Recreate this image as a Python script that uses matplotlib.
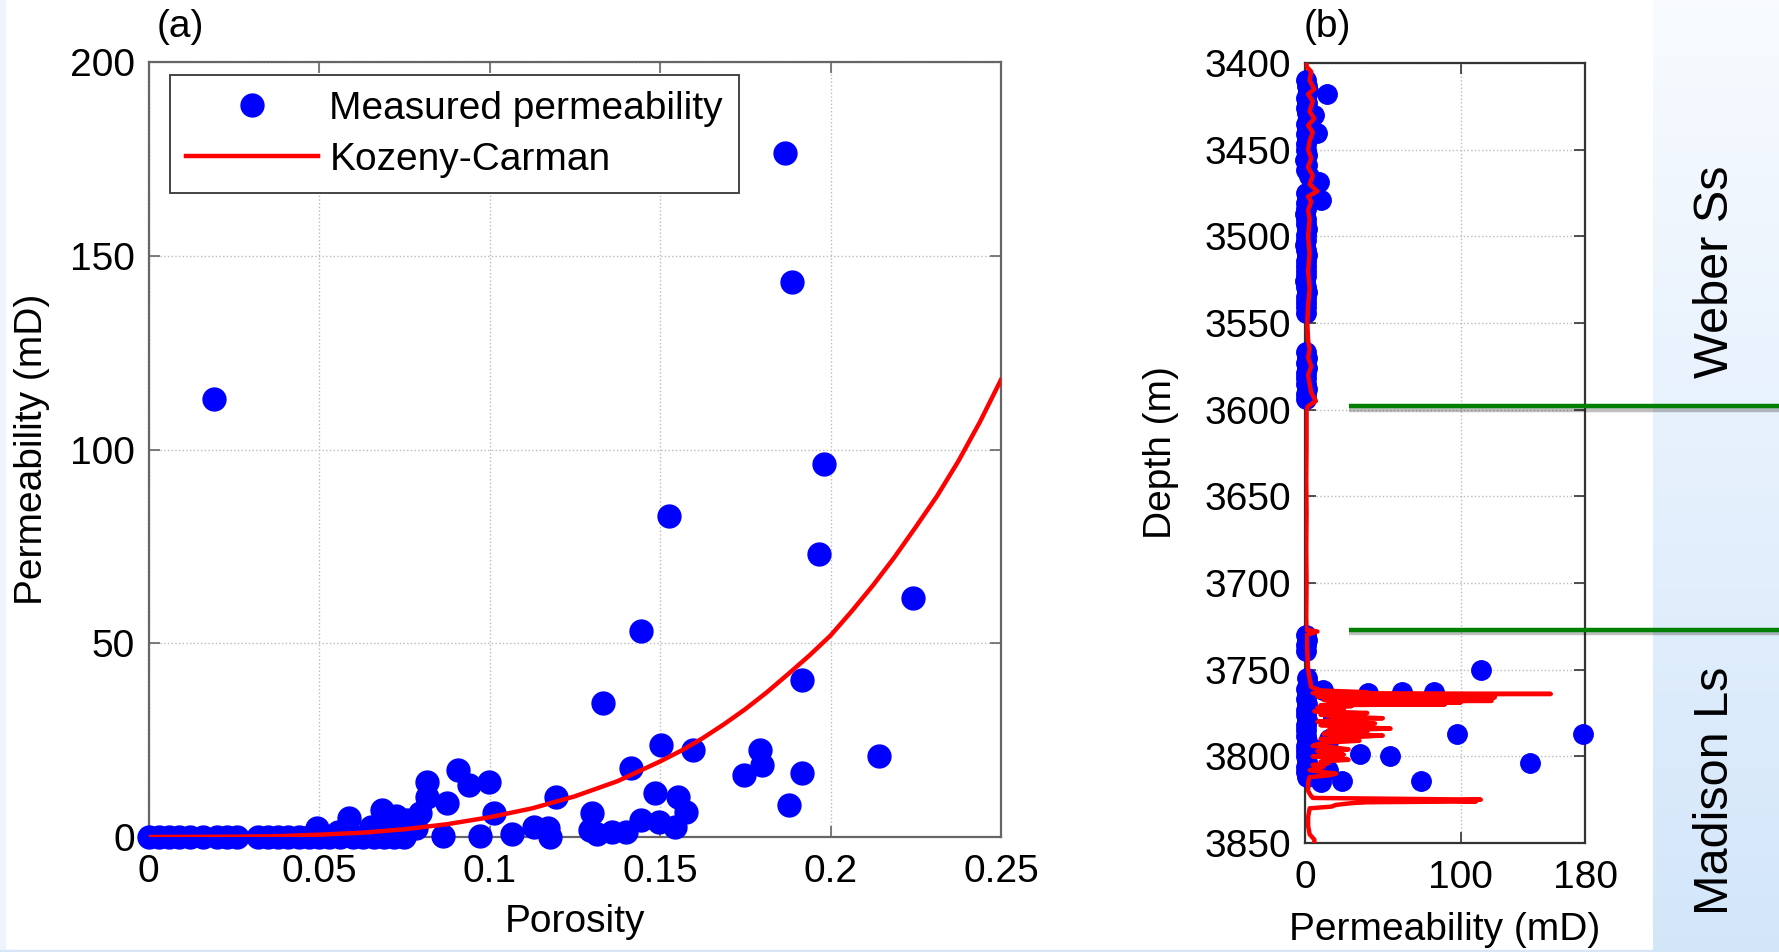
import numpy as np
import matplotlib.pyplot as plt
import matplotlib.patheffects as pe
from matplotlib.patches import Rectangle
from matplotlib.transforms import blended_transform_factory
from matplotlib.ticker import FormatStrFormatter

plt.rcParams['font.family'] = ['Liberation Sans', 'DejaVu Sans']

# (a) core samples: porosity vs measured permeability (mD)
porosity = [0.0, 0.003, 0.006, 0.009, 0.012, 0.016, 0.02, 0.023, 0.026, 0.032,
            0.035, 0.038, 0.041, 0.044, 0.047, 0.05, 0.053, 0.056, 0.06, 0.063,
            0.066, 0.069, 0.072, 0.075,
            0.0193, 0.1866, 0.1886, 0.198, 0.1527, 0.1965, 0.1444, 0.2241, 0.1916, 0.2141,
            0.1333, 0.1504, 0.1598, 0.1794, 0.1798, 0.1746, 0.1916, 0.1877, 0.1415, 0.1484,
            0.1553, 0.1576, 0.1543, 0.1497, 0.1445, 0.1399, 0.136, 0.1314, 0.130, 0.1294,
            0.1196, 0.117, 0.1177, 0.113, 0.1065, 0.1012, 0.0999, 0.0973, 0.094, 0.0908,
            0.0875, 0.0862, 0.0816, 0.0816, 0.0796, 0.0783, 0.0757, 0.0724, 0.0685, 0.0685,
            0.0652, 0.0587, 0.0587, 0.0554, 0.0495]
perm = [0.0, 0.0, 0.0, 0.0, 0.0, 0.0, 0.0, 0.0, 0.0, 0.0,
        0.0, 0.0, 0.0, 0.0, 0.0, 0.0, 0.0, 0.0, 0.0, 0.0,
        0.0, 0.0, 0.0, 0.0,
        113, 176.5, 143.3, 96.3, 82.8, 73.1, 53.2, 61.7, 40.5, 20.9,
        34.5, 23.7, 22.5, 22.5, 18.6, 16.0, 16.6, 8.3, 17.7, 11.4,
        10.4, 6.5, 2.7, 3.9, 4.4, 1.2, 1.2, 0.8, 6.1, 1.8,
        10.4, 2.2, 0.0, 2.6, 0.8, 6.1, 14.3, 0.3, 13.4, 17.3,
        8.7, 0.3, 14.3, 10.4, 6.1, 2.2, 4.4, 5.3, 7.0, 1.2,
        2.6, 4.8, 0.8, 1.2, 2.2]

# Kozeny-Carman curve
kc_phi = [0, 0.0125, 0.025, 0.0375, 0.05, 0.0625, 0.075, 0.0875, 0.1, 0.1125, 0.125,
          0.1375, 0.15, 0.15625, 0.1625, 0.16875, 0.175, 0.18125, 0.1875, 0.19375,
          0.2, 0.20625, 0.2125, 0.21875, 0.225, 0.23125, 0.2375, 0.24375, 0.25]
kc_perm = [0, 0.03, 0.07, 0.2, 0.6, 1.1, 2.0, 3.3, 5.1, 7.4, 10.5,
           14.4, 19.5, 22.3, 25.5, 29.1, 33, 37.3, 42, 46.8,
           52, 58.3, 65, 72.2, 80, 88, 97, 107, 118]

# (b) well log: measured permeability vs depth
well_depth = [3410, 3413, 3416, 3420, 3423, 3426, 3429, 3432, 3435, 3438, 3441, 3444,
              3447, 3450, 3453, 3456, 3459, 3462, 3465, 3475, 3478, 3481, 3484, 3487,
              3490, 3493, 3496, 3499, 3502, 3505, 3508, 3511, 3514, 3517, 3520, 3523,
              3526, 3529, 3532, 3535, 3538, 3541, 3544, 3567, 3570, 3573, 3576, 3579,
              3582, 3585, 3588, 3591, 3594, 3730, 3733, 3736, 3739, 3755, 3758, 3761,
              3764, 3767, 3770, 3773, 3776, 3779, 3782, 3785, 3788, 3791, 3794, 3797,
              3800, 3803, 3806, 3809, 3812,
              3750.3, 3787, 3787, 3804, 3814.3, 3799.7, 3798.6, 3814, 3815, 3790,
              3762, 3767, 3763.3, 3763, 3763, 3418, 3440.6, 3468.7, 3479, 3430,
              3778, 3795, 3808]
well_perm = [0.5, 1.0, 2.0, 0.8, 1.5, 0.5, 1.2, 2.0, 0.6, 1.0, 0.4, 1.5,
             0.8, 0.5, 1.0, 0.3, 1.2, 0.6, 2.5, 0.4, 1.0, 0.5, 0.8, 0.3,
             0.6, 0.4, 1.0, 0.5, 0.8, 0.3, 0.6, 1.0, 0.4, 0.7, 0.5, 0.9,
             0.3, 0.6, 1.0, 0.4, 0.8, 0.5, 0.7, 0.5, 1.0, 0.6, 1.2, 0.4,
             0.8, 0.5, 1.0, 0.6, 0.9, 0.5, 1.0, 0.4, 0.7, 1.0, 2.0, 0.6,
             1.2, 0.5, 1.0, 0.8, 0.4, 1.0, 0.6, 0.9, 0.4, 1.0, 0.6, 0.8,
             0.5, 1.0, 0.4, 0.6, 1.0,
             113.2, 97.5, 178.4, 144.5, 74.6, 54.5, 35.5, 23.8, 10.2, 15.4,
             11.5, 20.6, 40.2, 62.3, 83.2, 14.1, 7.6, 8.9, 10.2, 6.0,
             18.0, 12.0, 15.0]

# (b) Kozeny-Carman prediction along the well
kc_depth = [3400, 3402, 3405, 3410, 3415, 3418, 3422, 3428, 3432, 3436, 3440, 3445,
            3450, 3455, 3460, 3465, 3470, 3474, 3477, 3480, 3485, 3490, 3500, 3510,
            3520, 3530, 3540, 3550, 3560, 3565, 3570, 3575, 3580, 3585, 3590, 3595,
            3598, 3600, 3620, 3640, 3660, 3680, 3700, 3720, 3727, 3728, 3730, 3740,
            3750, 3755, 3760, 3762, 3763, 3763.5, 3764, 3764.5, 3765, 3765.5, 3766,
            3766.5, 3767, 3767.5, 3768, 3768.5, 3769, 3769.5, 3770, 3770.5, 3771,
            3772, 3773, 3774, 3775, 3776, 3777, 3778, 3779, 3780, 3781, 3782, 3783,
            3784, 3785, 3786, 3787, 3788, 3789, 3790, 3791, 3792, 3793, 3794, 3795,
            3796, 3797, 3798, 3799, 3800, 3801, 3802, 3803, 3804, 3805, 3806, 3808,
            3810, 3811, 3812, 3815, 3820, 3823, 3824, 3824.5, 3825, 3825.5, 3826,
            3826.5, 3827, 3828, 3829, 3830, 3835, 3840, 3845, 3848, 3850]
kc_log = [1, 1, 4, 3, 6, 2, 5, 3, 6, 2, 5, 3,
          2, 4, 2, 5, 3, 8, 2, 4, 2, 3, 2, 3,
          2, 3, 2, 1.5, 2, 3, 2, 4, 2, 3, 4, 7,
          2, 1, 1, 0.8, 1, 0.8, 1, 0.8, 1, 8, 1, 1.5,
          2, 3, 4, 10, 40, 5, 158, 10, 120, 8, 122,
          20, 118, 12, 120, 30, 100, 15, 90, 10, 30,
          8, 25, 6, 40, 10, 20, 50, 20, 8, 45, 10, 30,
          55, 15, 40, 12, 50, 30, 10, 35, 15, 8, 5, 20,
          28, 8, 20, 25, 5, 22, 28, 10, 15, 5, 12, 3,
          20, 15, 3, 2, 2, 4, 5, 60, 113, 90, 110,
          40, 30, 20, 17, 3, 2, 2, 3, 6, 6]

unit_tops = [3598, 3727]
unit_names = ['Weber Ss', 'Madison Ls']

FS = 28
W, H = 1779, 952
fig = plt.figure(figsize=(W / 100, H / 100), dpi=100)

# light blue gradient strip at the right edge
bg = fig.add_axes([1653 / W, 0, 1 - 1653 / W, 1], zorder=-1)
top_c = np.array([0.973, 0.984, 1.0])
bot_c = np.array([0.827, 0.902, 0.980])
t = np.linspace(0, 1, 256)[:, None]
grad = (top_c * (1 - t) + bot_c * t)[:, None, :]
bg.imshow(grad, aspect='auto', extent=[0, 1, 0, 1])
bg.axis('off')
fig.patches.append(Rectangle((0, 0), 5 / W, 1, transform=fig.transFigure,
                             color='#eef4fc', zorder=-2))
fig.patches.append(Rectangle((0, 0), 1, 2 / H, transform=fig.transFigure,
                             color='#d6e6f8', zorder=-2))

# ---------- panel (a)
ax = fig.add_axes([148.7 / W, 1 - 837 / H, (1001 - 148.7) / W, (837 - 62) / H])
ax.plot(porosity, perm, 'o', color='#0000ff', ms=16.5, mec='#0000ff',
        clip_on=False, zorder=3, label='Measured permeability')
ax.plot(kc_phi, kc_perm, color='#ff0000', lw=3.2, zorder=4, label='Kozeny-Carman')
ax.set_xlim(0, 0.25)
ax.set_ylim(0, 200)
ax.set_xticks([0, 0.05, 0.1, 0.15, 0.2, 0.25])
ax.set_yticks([0, 50, 100, 150, 200])
ax.xaxis.set_major_formatter(FormatStrFormatter('%g'))
ax.set_xlabel('Porosity', fontsize=FS, labelpad=10)
ax.set_ylabel('Permeability (mD)', fontsize=FS, labelpad=14)
leg = ax.legend(loc='upper left', bbox_to_anchor=(0.025, 0.983), fontsize=FS,
                fancybox=False, borderaxespad=0, handlelength=3.4, handletextpad=0.3,
                borderpad=0.4, labelspacing=0.38, framealpha=1)
leg.get_frame().set_edgecolor('#444444')
leg.get_frame().set_linewidth(1.4)

# ---------- panel (b)
bx = fig.add_axes([1305 / W, 1 - 843 / H, (1585 - 1305) / W, (843 - 63) / H])
bx.plot(well_perm, well_depth, 'o', color='#0000ff', ms=14, mec='#0000ff',
        clip_on=False, zorder=3)
bx.plot(kc_log, kc_depth, color='#ff0000', lw=3.2, zorder=4)
bx.set_xlim(0, 180)
bx.set_ylim(3850, 3400)
bx.set_xticks([0, 100, 180])
bx.set_yticks(np.arange(3400, 3851, 50))
bx.set_xlabel('Permeability (mD)', fontsize=FS, labelpad=12)
bx.set_ylabel('Depth (m)', fontsize=FS, labelpad=18)

for a, sc in ((ax, '#666666'), (bx, '#333333')):
    a.tick_params(direction='in', top=True, right=True, length=8, width=1.2,
                  labelsize=FS, pad=10, color=sc)
    a.tick_params(axis='x', pad=12)
    a.grid(True, linestyle=':', color='#bbbbbb', lw=1)
    a.set_axisbelow(True)
    for s in a.spines.values():
        s.set_color(sc)
        s.set_linewidth(1.6)

fig.text(157 / W, 1 - 27 / H, '(a)', fontsize=FS, ha='left', va='center')
fig.text(1304 / W, 1 - 27 / H, '(b)', fontsize=FS, ha='left', va='center')

# formation boundaries
tr = blended_transform_factory(fig.transFigure, bx.transData)
for d in unit_tops:
    bx.plot([1349 / W, 1.0], [d, d], color='#008000', lw=3.2, transform=tr,
            clip_on=False, zorder=5, solid_capstyle='butt',
            path_effects=[pe.SimpleLineShadow(offset=(0, -2.5), alpha=0.25),
                          pe.Normal()])

fig.text(1716 / W, 1 - 272 / H, unit_names[0], fontsize=35, rotation=90,
         ha='center', va='center')
fig.text(1716 / W, 1 - 791 / H, unit_names[1], fontsize=35, rotation=90,
         ha='center', va='center')

fig.savefig('out.png', dpi=100)
